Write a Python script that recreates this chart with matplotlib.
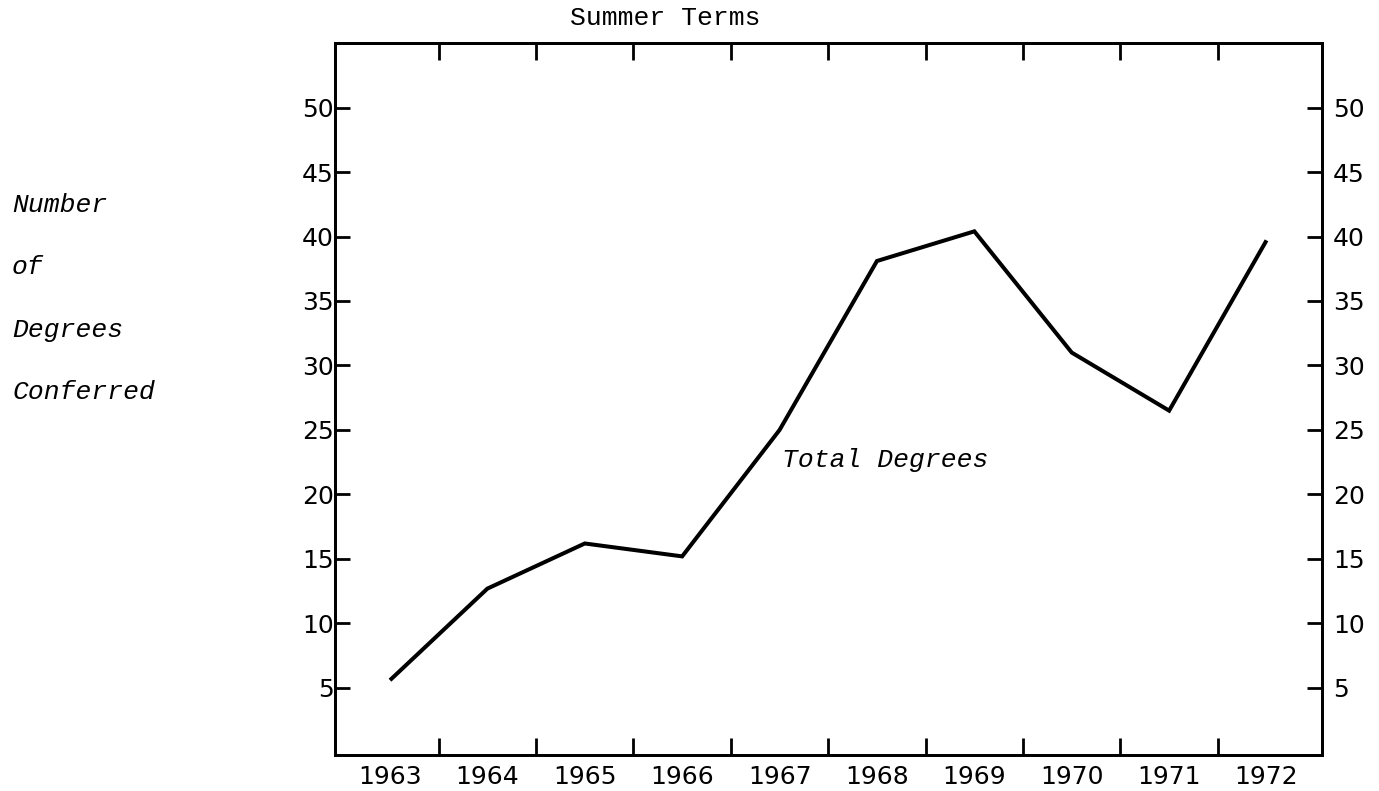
import matplotlib
matplotlib.use("Agg")
import matplotlib.pyplot as plt
import numpy as np

years = ["1963", "1964", "1965", "1966", "1967", "1968", "1969", "1970", "1971", "1972"]
total_degrees = [5.6, 12.7, 16.2, 15.2, 25.0, 38.1, 40.4, 31.0, 26.5, 39.7]
y_ticks = [5, 10, 15, 20, 25, 30, 35, 40, 45, 50]
ylabel_lines = ["Number", "of", "Degrees", "Conferred"]

fig = plt.figure(figsize=(13.79, 7.91), dpi=100)
ax = fig.add_axes([0.2429, 0.0455, 0.9587 - 0.2429, 0.9456 - 0.0455])

x = np.arange(len(years))
ax.plot(x, total_degrees, color="black", lw=2.9, solid_joinstyle="miter", solid_capstyle="butt")

ax.set_xlim(-0.565, 9.57)
ax.set_ylim(-0.2, 55)

tick_font = dict(family="DejaVu Sans", size=18)
mono = "Liberation Mono"

# x: major ticks at boundaries, labels at centers via minor ticks
ax.set_xticks(x[:-1] + 0.5)
ax.set_xticklabels([])
ax.set_xticks(x, minor=True)
ax.set_xticklabels(years, minor=True, fontdict=tick_font)
ax.tick_params(axis="x", which="major", direction="in", length=12, width=2,
               top=True, bottom=True)
ax.tick_params(axis="x", which="minor", length=0, pad=7)

ax.set_yticks(y_ticks)
ax.set_yticklabels([str(v) for v in y_ticks], fontdict=tick_font)
ax.tick_params(axis="y", which="major", direction="in", length=11, width=2,
               left=True, right=False, labelleft=True, labelright=False, pad=1)

axr = ax.twinx()
axr.set_ylim(ax.get_ylim())
axr.set_yticks(y_ticks)
axr.set_yticklabels([str(v) for v in y_ticks], fontdict=tick_font)
axr.tick_params(axis="y", which="major", direction="in", length=11, width=2, pad=8)

for a in (ax, axr):
    for s in a.spines.values():
        s.set_linewidth(2)

ax.text(4.02, 22.7, "Total Degrees", family=mono, style="italic", fontsize=19,
        ha="left", va="center")

fig.text(665 / 1379, 1 - 18 / 791, "Summer Terms", family=mono, fontsize=19,
         ha="center", va="center")

for t, yp in zip(ylabel_lines, [205, 267, 330, 392]):
    fig.text(12 / 1379, 1 - yp / 791, t, family=mono, style="italic", fontsize=19,
             ha="left", va="center")

fig.savefig("out.png", dpi=100)
